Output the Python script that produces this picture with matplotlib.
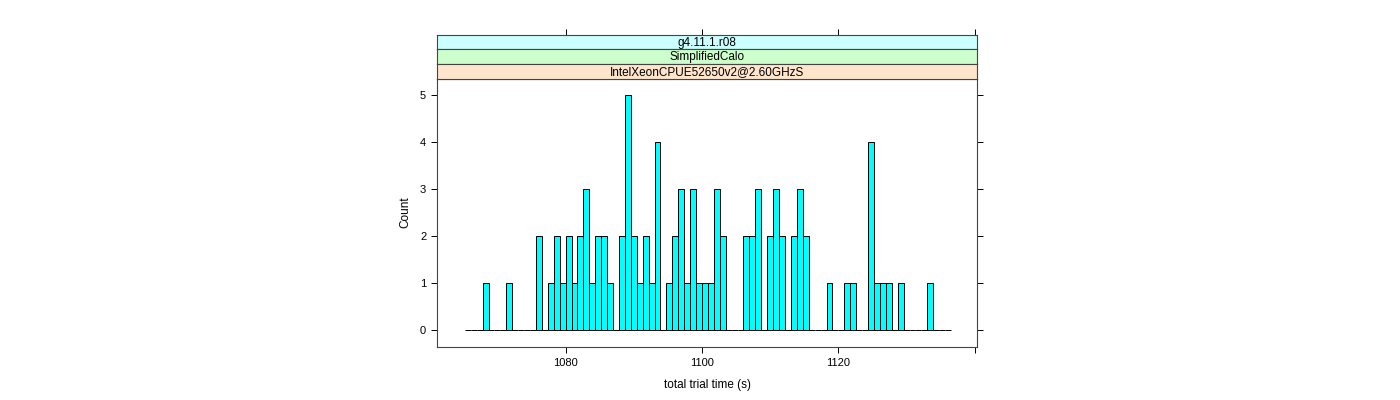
import numpy as np
import matplotlib
matplotlib.use("Agg")
import matplotlib.pyplot as plt

# ---- data ----
bin_start = 1065.23
bin_width = 0.8696
counts = [0, 0, 0, 1, 0, 0, 0, 1, 0, 0,
          0, 0, 2, 0, 1, 2, 1, 2, 1, 2,
          3, 1, 2, 2, 1, 0, 2, 5, 2, 1,
          2, 1, 4, 0, 1, 2, 3, 1, 3, 1,
          1, 1, 3, 2, 0, 0, 0, 2, 2, 3,
          0, 2, 3, 2, 0, 2, 3, 2, 0, 0,
          0, 1, 0, 0, 1, 1, 0, 0, 4, 1,
          1, 1, 0, 1, 0, 0, 0, 0, 1, 0,
          0, 0]
x_ticks = [1080, 1100, 1120, 1140]
x_ticklabels = ["1080", "1100", "1120", ""]
y_ticks = [0, 1, 2, 3, 4, 5]
strip_labels = ["g4.11.1.r08", "SimplifiedCalo", "IntelXeonCPUE52650v2@2.60GHzS"]
strip_colors = ["#CCFFFF", "#CCFFCC", "#FFE5CC"]
x_label = "total trial time (s)"
y_label = "Count"

plt.rcParams['font.family'] = ['Liberation Sans', 'DejaVu Sans']

W, H = 1400, 400
fig = plt.figure(figsize=(14, 4), dpi=100)

def fx(px):
    return px / W

def fy(py):
    return 1 - py / H

left, right = 437.3, 976.7
bottom, ptop = 346.7, 78.5
strip_edges = [34.7, 49.3, 64.0, 78.5]

ax = fig.add_axes([fx(left), fy(bottom), fx(right) - fx(left), fy(ptop) - fy(bottom)])
edges = bin_start + bin_width * np.arange(len(counts) + 1)
ax.bar(edges[:-1], counts, width=bin_width, align='edge', color='#00FFFF',
       edgecolor='black', linewidth=0.7)
ax.set_xlim(1061.2, 1140.3)
ax.set_ylim(-0.35, 5.35)
ax.set_xticks(x_ticks)
ax.set_xticklabels(x_ticklabels)
ax.set_yticks(y_ticks)
ax.tick_params(axis='both', direction='out', length=4, width=0.7, labelsize=8,
               top=False, right=True, labelright=False, colors='black', pad=4)
for s in ax.spines.values():
    s.set_linewidth(0.8)
    s.set_color('#444444')
ax.set_xlabel(x_label, fontsize=8.5, labelpad=8)
ax.set_ylabel(y_label, fontsize=8.5, labelpad=6)

# strips
for i, (lab, col) in enumerate(zip(strip_labels, strip_colors)):
    t, b = strip_edges[i], strip_edges[i + 1]
    sax = fig.add_axes([fx(left), fy(b), fx(right) - fx(left), fy(t) - fy(b)], sharex=ax)
    sax.set_facecolor(col)
    sax.set_ylim(0, 1)
    sax.text(0.5, 0.45, lab, transform=sax.transAxes, ha='center', va='center', fontsize=8.5)
    for s in sax.spines.values():
        s.set_linewidth(0.8)
        s.set_color('#444444')
    if i == 0:
        sax.tick_params(axis='x', direction='out', length=4, width=0.7, top=True,
                        bottom=False, labeltop=False, labelbottom=False)
    else:
        sax.tick_params(axis='x', length=0, labelbottom=False)
    sax.tick_params(axis='y', left=False, labelleft=False)

fig.savefig("out.png", dpi=100)
